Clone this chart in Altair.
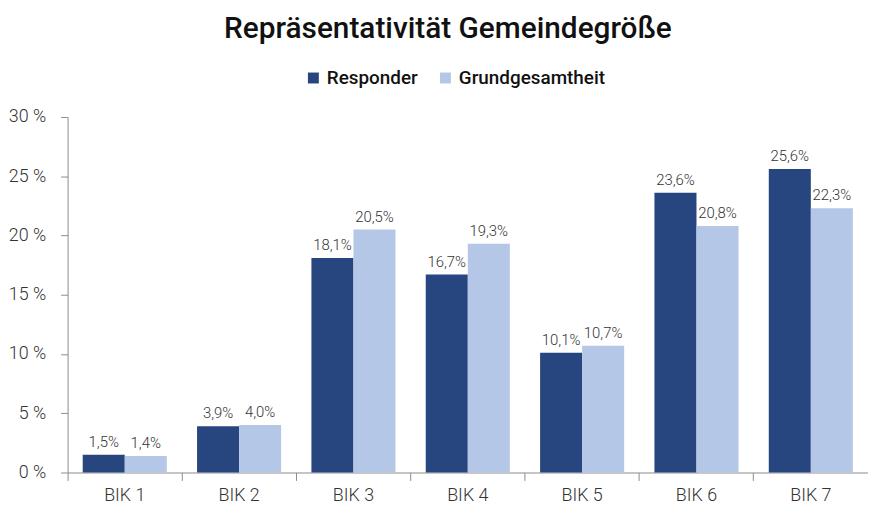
import altair as alt
import pandas as pd

categories = ["BIK 1", "BIK 2", "BIK 3", "BIK 4", "BIK 5", "BIK 6", "BIK 7"]
series = ["Responder", "Grundgesamtheit"]
responder = [1.5, 3.9, 18.1, 16.7, 10.1, 23.6, 25.6]
grundgesamtheit = [1.4, 4.0, 20.5, 19.3, 10.7, 20.8, 22.3]
colors = ["#27457f", "#b4c7e6"]
y_ticks = [0, 5, 10, 15, 20, 25, 30]

rows = []
for i, c in enumerate(categories):
    for s, vals in zip(series, [responder, grundgesamtheit]):
        v = vals[i]
        rows.append({"BIK": c, "Serie": s, "Wert": v,
                     "Label": f"{v:.1f}".replace(".", ",") + "%"})
df = pd.DataFrame(rows)

x = alt.X("BIK:N", sort=categories, title=None,
          scale=alt.Scale(paddingInner=0, paddingOuter=0),
          axis=alt.Axis(labelAngle=0, bandPosition=0, ticks=True, tickSize=8,
                        labelFontSize=18, labelFont="Roboto", labelFontWeight=300,
                        labelColor="#333333", labelPadding=6,
                        domainColor="#8c8c8c", tickColor="#8c8c8c"))
xoff = alt.XOffset("Serie:N", sort=series,
                   scale=alt.Scale(paddingInner=0, paddingOuter=0.36))

bars = alt.Chart(df).mark_bar().encode(
    x=x,
    xOffset=xoff,
    y=alt.Y("Wert:Q", title=None,
            scale=alt.Scale(domain=[0, 30], nice=False),
            axis=alt.Axis(values=y_ticks, grid=False, labelExpr="datum.value + ' %'",
                          labelFontSize=18, labelFont="Roboto", labelFontWeight=300,
                          labelColor="#333333", tickSize=7, labelPadding=15,
                          domainColor="#8c8c8c", tickColor="#8c8c8c")),
    color=alt.Color("Serie:N", sort=series,
                    scale=alt.Scale(domain=series, range=colors),
                    legend=alt.Legend(title=None, orient="none", direction="horizontal",
                                      legendX=238, legendY=-49,
                                      symbolType="square", symbolSize=121,
                                      symbolStrokeWidth=0,
                                      labelFontSize=19, labelFont="Roboto",
                                      labelFontWeight=500, labelColor="#111111",
                                      columnPadding=18)),
)

text = alt.Chart(df).mark_text(dy=-13, fontSize=15, font="Roboto", fontWeight=300,
                               color="#333333").encode(
    x=x,
    xOffset=xoff,
    y=alt.Y("Wert:Q"),
    text="Label:N",
)

chart = alt.layer(bars, text).properties(
    width=806, height=358,
    padding={"left": 0, "top": 4, "right": 0, "bottom": 0},
    title=alt.Title("Repräsentativität Gemeindegröße", fontSize=30, font="Roboto",
                    fontWeight=500, color="#111111", offset=25, dx=-20),
).configure_view(stroke=None)

chart.save("out.html", embed_options={"renderer": "svg", "actions": False})
